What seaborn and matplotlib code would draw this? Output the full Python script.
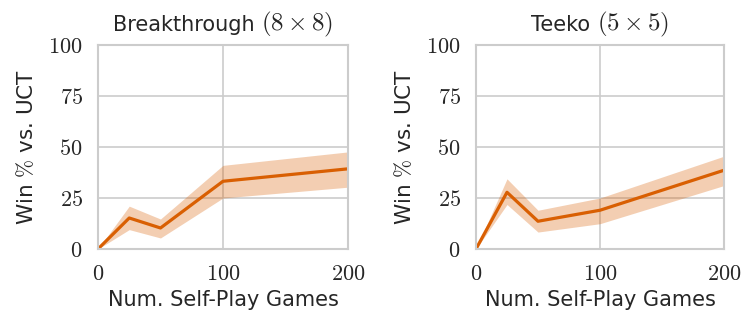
import matplotlib
matplotlib.use("Agg")
import matplotlib.pyplot as plt
import seaborn as sns
import pandas as pd
from matplotlib.ticker import FuncFormatter
from matplotlib.offsetbox import TextArea, HPacker, AnnotationBbox

games = [0, 25, 50, 100, 200]
bt_mean = [0.0, 15.2, 10.3, 33.2, 39.3]
bt_low = [0.0, 9.5, 5.4, 25.0, 30.3]
bt_high = [0.0, 21.0, 14.7, 41.0, 47.6]
tk_mean = [0.0, 27.8, 13.6, 19.0, 38.6]
tk_low = [0.0, 21.8, 8.3, 12.4, 31.1]
tk_high = [0.0, 34.4, 19.0, 25.0, 45.5]
title_names = ["Breakthrough", "Teeko"]
title_sizes = [r"$(8\times 8)$", r"$(5\times 5)$"]
xticks = [0, 100, 200]
yticks = [0, 25, 50, 75, 100]

sns.set_theme(style="whitegrid")
plt.rcParams["font.family"] = ["DejaVu Sans"]
plt.rcParams["mathtext.fontset"] = "cm"
plt.rcParams["axes.edgecolor"] = "#cccccc"
plt.rcParams["grid.color"] = "#cccccc"

color = "#d95f02"
txtc = "#262626"
fig = plt.figure(figsize=(7.56, 3.35), dpi=100)
ax1 = fig.add_axes([98/756, 86/335, 250/756, 204/335])
ax2 = fig.add_axes([476/756, 86/335, 248/756, 204/335])

fmt = FuncFormatter(lambda v, p: f"${int(v)}$")
series = [(bt_mean, bt_low, bt_high), (tk_mean, tk_low, tk_high)]
for ax, (m, lo, hi), name, size in zip([ax1, ax2], series, title_names, title_sizes):
    df = pd.DataFrame({"games": games, "win": m})
    sns.lineplot(data=df, x="games", y="win", ax=ax, color=color, linewidth=2.3)
    ax.fill_between(games, lo, hi, color=color, alpha=0.3, linewidth=0)
    ax.set_xlim(0, 200)
    ax.set_ylim(0, 100)
    ax.set_xticks(xticks)
    ax.set_yticks(yticks)
    ax.xaxis.set_major_formatter(fmt)
    ax.yaxis.set_major_formatter(fmt)
    ax.tick_params(axis="both", labelsize=16, pad=5, colors=txtc)
    ax.set_xlabel("Num. Self-Play Games", fontsize=15, color=txtc)
    ax.set_ylabel(r"Win $\%$ vs. UCT", fontsize=15.5, color=txtc, labelpad=8)
    for s in ax.spines.values():
        s.set_linewidth(1.5)
        s.set_color("#cccccc")
    ax.grid(linewidth=1.2)
    pack = HPacker(children=[TextArea(name + " ", textprops=dict(size=15, color=txtc)),
                             TextArea(size, textprops=dict(size=18, color=txtc))],
                   align="baseline", pad=0, sep=0)
    ab = AnnotationBbox(pack, (0.5, 1.0), xycoords="axes fraction",
                        box_alignment=(0.5, 0.0), frameon=False,
                        xybox=(0, 4), boxcoords="offset points")
    ax.add_artist(ab)

fig.savefig("out.png", dpi=100)
